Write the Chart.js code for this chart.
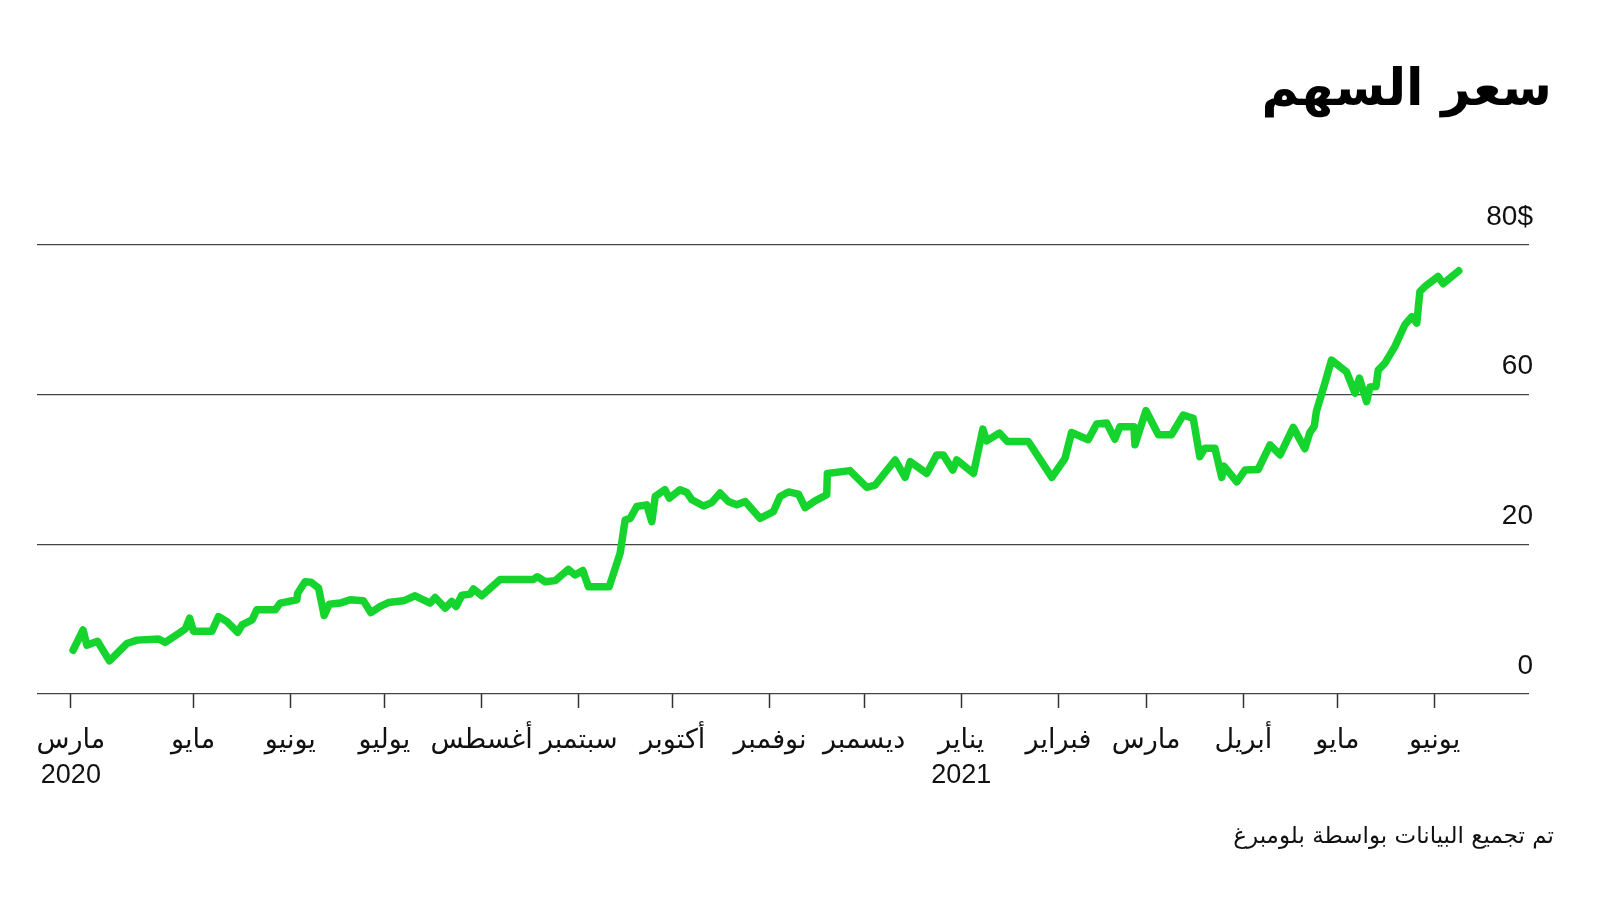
<!DOCTYPE html>
<html><head><meta charset="utf-8">
<script src="https://cdn.jsdelivr.net/npm/chart.js@4.4.0/dist/chart.umd.min.js"></script>
<style>
html,body{margin:0;padding:0;background:#fff;}
#wrap{position:relative;width:1600px;height:900px;overflow:hidden;background:#fff;}
#title{position:absolute;right:48px;top:62px;font-family:'DejaVu Sans',sans-serif;font-weight:bold;font-size:51px;direction:rtl;color:#000;line-height:1;white-space:nowrap;}
#source{position:absolute;right:46px;top:824px;font-family:'DejaVu Sans',sans-serif;font-size:23px;direction:rtl;color:#111;line-height:1;white-space:nowrap;}
canvas{position:absolute;left:0;top:0;}
</style></head><body>
<div id="wrap">
<canvas id="c" width="1600" height="900"></canvas>
<div id="title">سعر السهم</div>
<div id="source">تم تجميع البيانات بواسطة بلومبرغ</div>
</div>
<script>
// days since 2020-03-01
const dayIndex = [22.7, 25.9, 27.1, 30.5, 34.3, 39.9, 43.1, 50.0, 52.1, 56.9,
  58.5, 59.9, 61.1, 67.0, 69.1, 71.8, 75.2, 76.6, 79.8, 81.3,
  87.2, 88.8, 94.1, 94.3, 96.7, 98.6, 101.0, 102.8, 104.4, 107.9,
  111.1, 115.3, 117.7, 120.7, 123.3, 128.1, 131.8, 136.6, 138.2, 141.4,
  143.5, 144.9, 146.7, 149.4, 150.4, 153.1, 158.9, 169.5, 170.8, 173.3,
  176.5, 180.7, 182.8, 185.3, 187.1, 193.7, 197.2, 198.8, 200.4, 202.5,
  205.7, 207.3, 208.4, 211.5, 212.9, 216.3, 218.5, 220.1, 223.8, 226.4,
  229.1, 231.7, 234.4, 237.1, 241.8, 246.1, 248.2, 250.9, 254.1, 256.2,
  259.4, 263.1, 263.3, 270.5, 275.9, 278.5, 284.9, 288.1, 289.7, 295.0,
  298.2, 300.3, 303.3, 304.6, 309.9, 312.9, 314.1, 318.2, 320.7, 327.4,
  334.9, 339.1, 341.2, 346.5, 349.2, 352.4, 355.0, 356.6, 361.1, 361.4,
  364.9, 368.9, 373.1, 376.8, 380.0, 382.1, 383.7, 386.9, 389.1, 389.8,
  393.9, 396.5, 400.7, 404.5, 407.7, 411.9, 415.6, 417.2, 418.6, 419.3,
  422.0, 424.1, 428.9, 431.6, 433.0, 435.3, 436.4, 438.3, 439.0, 441.1,
  444.3, 447.5, 449.7, 451.3, 452.3, 453.9, 458.1, 459.7, 464.7];

const prices = [7.8, 11.4, 8.7, 9.4, 5.9, 9.0, 9.6, 9.8, 9.2, 11.0,
  11.6, 13.5, 11.2, 11.2, 13.8, 12.9, 11.0, 12.3, 13.2, 15.0,
  15.0, 16.2, 16.8, 17.9, 20.0, 19.9, 18.9, 14.0, 16.0, 16.2,
  16.8, 16.6, 14.5, 15.6, 16.3, 16.6, 17.5, 16.2, 17.2, 15.3,
  16.5, 15.6, 17.6, 17.8, 18.7, 17.5, 20.4, 20.4, 20.9, 20.0,
  20.2, 22.2, 21.2, 22.0, 19.1, 19.1, 25.1, 31.0, 31.3, 33.4,
  33.7, 30.7, 35.2, 36.4, 34.9, 36.4, 35.9, 34.6, 33.5, 34.1,
  35.8, 34.3, 33.7, 34.3, 31.3, 32.5, 35.2, 36.0, 35.6, 33.2,
  34.4, 35.5, 39.3, 39.8, 36.8, 37.2, 41.7, 38.6, 41.4, 39.3,
  42.6, 42.6, 39.9, 41.7, 39.3, 47.2, 45.1, 46.5, 45.0, 45.0,
  38.6, 42.0, 46.6, 45.3, 48.1, 48.3, 45.4, 47.6, 47.6, 44.4,
  50.5, 46.2, 46.2, 49.7, 49.1, 42.3, 43.8, 43.8, 38.6, 40.6,
  37.8, 39.9, 40.0, 44.4, 42.6, 47.5, 43.7, 46.6, 47.7, 50.4,
  55.4, 59.5, 57.4, 53.6, 56.3, 52.1, 54.7, 54.8, 57.7, 58.9,
  61.9, 65.8, 67.2, 66.1, 71.7, 72.6, 74.4, 73.1, 75.4];

const xTickDays = [22, 61, 92, 122, 153, 184, 214, 245, 275, 306, 337, 365, 396, 426, 457];
const xTickLabels = [['مارس', '2020'], 'مايو', 'يونيو', 'يوليو', 'أغسطس', 'سبتمبر', 'أكتوبر', 'نوفمبر', 'ديسمبر', ['يناير', '2021'], 'فبراير', 'مارس', 'أبريل', 'مايو', 'يونيو'];
const yTickValues = [0, 80 / 3, 160 / 3, 80];
const yTickLabels = ['0', '20', '60', '80$'];

const FONT = "'Liberation Sans', 'DejaVu Sans', sans-serif";

new Chart(document.getElementById('c'), {
  type: 'line',
  data: {
    datasets: [{
      data: dayIndex.map((d, i) => ({ x: d, y: prices[i] })),
      borderColor: '#16d42e',
      borderWidth: 7.5,
      pointRadius: 0,
      tension: 0,
      borderJoinStyle: 'round',
      borderCapStyle: 'round',
      fill: false
    }]
  },
  options: {
    responsive: false,
    animation: false,
    devicePixelRatio: 1,
    layout: { padding: { left: 37, right: 71, top: 245, bottom: 106 } },
    plugins: { legend: { display: false }, tooltip: { enabled: false }, title: { display: false } },
    scales: {
      x: {
        type: 'linear', position: 'bottom', min: 11.2, max: 487.1,
        afterBuildTicks: s => { s.ticks = xTickDays.map(v => ({ value: v })); },
        afterFit: s => { s.height = 100; },
        ticks: {
          autoSkip: false, maxRotation: 0, minRotation: 0, padding: 15, color: '#111',
          font: { family: FONT, size: 27, lineHeight: 1.3 },
          callback: (v, i) => xTickLabels[i]
        },
        grid: { drawOnChartArea: false, drawTicks: true, tickLength: 14, tickColor: '#333', tickWidth: 1.5 },
        border: { display: false }
      },
      y: {
        type: 'linear', position: 'right', min: 0, max: 80,
        afterBuildTicks: s => { s.ticks = yTickValues.map(v => ({ value: v })); },
        afterFit: s => { s.width = 0; },
        ticks: {
          mirror: true, padding: 4, labelOffset: -28, color: '#111',
          font: { family: FONT, size: 28 },
          callback: (v, i) => yTickLabels[i]
        },
        grid: { color: '#444', lineWidth: 1.2, drawTicks: false },
        border: { display: false }
      }
    }
  }
});
</script>
</body></html>
